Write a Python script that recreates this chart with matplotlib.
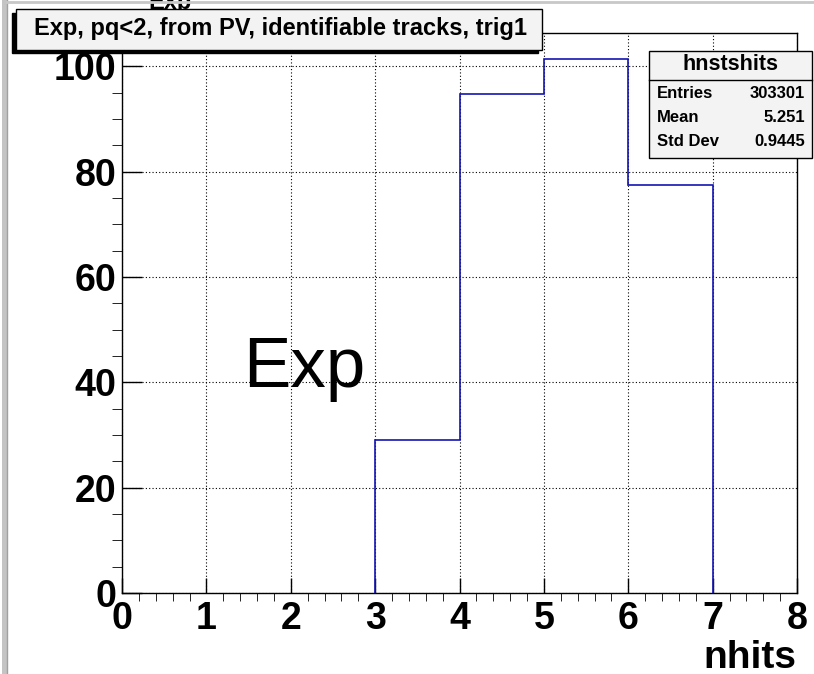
import matplotlib
matplotlib.use("Agg")
import matplotlib.pyplot as plt
from matplotlib.patches import Rectangle
from matplotlib.lines import Line2D

# histogram nhits (per bin, normalised)
bin_edges = [3, 4, 5, 6, 7]
counts = [29.0, 94.7, 101.3, 77.4]

title_text = "Exp, pq<2, from PV, identifiable tracks, trig1"
stats_name = "hnstshits"
stats_rows = [("Entries", "303301"), ("Mean", "5.251"), ("Std Dev", "0.9445")]

W, H = 814, 674
plt.rcParams["font.family"] = ["Liberation Sans", "DejaVu Sans"]


def fx(px):
    return px / W


def fy(py):
    return 1 - py / H


fig = plt.figure(figsize=(W / 100, H / 100), dpi=100)
ax = fig.add_axes([fx(122), fy(593), fx(797) - fx(122), fy(33) - fy(593)])

ax.stairs(counts, bin_edges, baseline=0, color="#1414b0", lw=1.2, zorder=3)

ax.set_xlim(0, 8)
ax.set_ylim(0, 106.3)
ax.set_xticks(range(0, 9))
ax.set_xticks([i * 0.2 for i in range(41)], minor=True)
ax.set_yticks(range(0, 101, 20))
ax.set_yticks(range(0, 106, 5), minor=True)
ax.grid(True, which="major", color="black", linestyle=(0, (1, 2)), lw=0.8)
ax.tick_params(direction="in", top=False, right=False, labelsize=27, width=1.0)
ax.tick_params(axis="x", which="major", length=11, pad=6)
ax.tick_params(axis="x", which="minor", length=5.5)
ax.tick_params(axis="y", which="major", length=14.5, pad=4)
ax.tick_params(axis="y", which="minor", length=7)
for lab in ax.get_xticklabels() + ax.get_yticklabels():
    lab.set_fontweight("bold")
for s in ax.spines.values():
    s.set_linewidth(1.0)

ax.text(0.179, 0.368, "Exp", transform=ax.transAxes, fontsize=51, va="baseline", ha="left")

fig.text(fx(796), fy(668), "nhits", fontsize=28, fontweight="bold", ha="right", va="baseline")

# window borders
fig.add_artist(Rectangle((fx(2), 0), fx(5), 1, transform=fig.transFigure,
                         facecolor="#c4c4c4", edgecolor="none"))
fig.add_artist(Line2D([fx(7), fx(7)], [0, 1], color="#a0a0a0", lw=1))
fig.add_artist(Line2D([fx(7), 1], [fy(2), fy(2)], color="#c8c8c8", lw=2))

# partially hidden original title
fig.text(fx(170), fy(14), "Exp", fontsize=17, fontweight="bold", ha="center", va="bottom", zorder=1)

# title box with shadow
fig.add_artist(Rectangle((fx(12), fy(53)), fx(538) - fx(12), fy(13) - fy(53),
                         transform=fig.transFigure, facecolor="black", edgecolor="black", zorder=4))
fig.add_artist(Rectangle((fx(16), fy(50)), fx(542) - fx(16), fy(9) - fy(50),
                         transform=fig.transFigure, facecolor="#f3f3f3", edgecolor="black", lw=1, zorder=5))
fig.text(fx(281), fy(29), title_text, fontsize=17, fontweight="bold", ha="center", va="center", zorder=6)

# stats box
fig.add_artist(Rectangle((fx(649), fy(158)), fx(812) - fx(649), fy(51) - fy(158),
                         transform=fig.transFigure, facecolor="#f3f3f3", edgecolor="black", lw=1, zorder=5))
fig.add_artist(Line2D([fx(649), fx(812)], [fy(80), fy(80)], color="black", lw=1, zorder=6))
fig.text(fx(730), fy(64), stats_name, fontsize=15.5, fontweight="bold", ha="center", va="center", zorder=6)
for i, (k, v) in enumerate(stats_rows):
    yy = fy(94 + i * 23.5)
    fig.text(fx(657), yy, k, fontsize=12, fontweight="bold", ha="left", va="center", zorder=6)
    fig.text(fx(805), yy, v, fontsize=12, fontweight="bold", ha="right", va="center", zorder=6)

fig.savefig("out.png", dpi=100)
